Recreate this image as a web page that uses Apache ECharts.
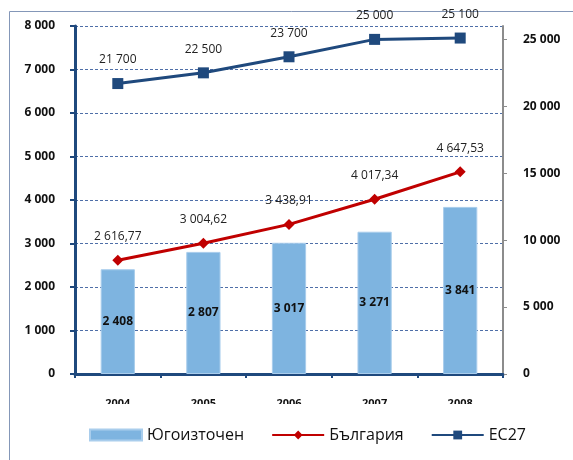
<!DOCTYPE html>
<html><head><meta charset="utf-8">
<script src="https://cdn.jsdelivr.net/npm/echarts@6/dist/echarts.min.js"></script>
<style>html,body{margin:0;padding:0;background:#fff}#c{width:573px;height:460px}</style>
</head><body><div id="c"></div>
<script>
const categories = ['2004','2005','2006','2007','2008'];
const regionValues = [2408, 2807, 3017, 3271, 3841];
const bulgariaValues = [2616.77, 3004.62, 3438.91, 4017.34, 4647.53];
const eu27Values = [21700, 22500, 23700, 25000, 25100];
const leftTicks = [0,1000,2000,3000,4000,5000,6000,7000,8000];
const rightTicks = [0,5000,10000,15000,20000,25000];
const seriesNames = ['Югоизточен','България','ЕС27'];

function fmt(v, dec) {
  const s = dec ? v.toFixed(dec) : String(Math.round(v));
  const parts = s.split('.');
  const intp = parts[0].replace(/\B(?=(\d{3})+(?!\d))/g, ' ');
  return parts.length > 1 ? intp + ',' + parts[1] : intp;
}
const FONT = 'Open Sans';
const chart = echarts.init(document.getElementById('c'));
chart.setOption({
  animation: false,
  textStyle: { fontFamily: FONT },
  grid: { left: 75, right: 70, top: 26, bottom: 86 },
  graphic: [
    { type: 'line', shape: { x1: 9.5, y1: 11.5, x2: 573, y2: 11.5 }, style: { stroke: '#8497b8', lineWidth: 1 }, z: 0 },
    { type: 'line', shape: { x1: 9.5, y1: 11.5, x2: 9.5, y2: 460 }, style: { stroke: '#8497b8', lineWidth: 1 }, z: 0 },
    { type: 'rect', shape: { x: 60, y: 404, width: 480, height: 16 }, style: { fill: '#fff' }, z: 100, zlevel: 1 }
  ],
  legend: {
    left: 89, top: 427, padding: 0,
    itemWidth: 52, itemHeight: 11, itemGap: 27,
    textStyle: { fontFamily: FONT, fontSize: 16, color: '#111', padding: [0,0,0,0] },
    data: [
      { name: seriesNames[0], icon: 'rect' },
      { name: seriesNames[1] },
      { name: seriesNames[2] }
    ]
  },
  xAxis: {
    type: 'category', data: categories,
    axisLine: { lineStyle: { color: '#1f497d', width: 3 } },
    axisTick: { show: true, length: 4, lineStyle: { color: '#1f497d', width: 2 } },
    axisLabel: { margin: 24, fontWeight: 'bold', fontSize: 11, color: '#111' }
  },
  yAxis: [
    {
      type: 'value', min: 0, max: 8000, interval: 1000,
      axisLine: { show: true, lineStyle: { color: '#1f497d', width: 3 } },
      axisTick: { show: true, length: 5, lineStyle: { color: '#1f497d', width: 2 } },
      axisLabel: { margin: 20, fontWeight: 'bold', fontSize: 12, color: '#111', formatter: v => fmt(v) },
      splitLine: { show: true, lineStyle: { color: '#4f6fa8', type: [3,2], width: 1 } }
    },
    {
      type: 'value', min: 0, max: 26000,
      axisLine: { show: true, lineStyle: { color: '#8c8c8c', width: 2 } },
      axisTick: { show: true, length: 4, customValues: rightTicks, lineStyle: { color: '#8c8c8c', width: 1 } },
      axisLabel: { margin: 20, fontWeight: 'bold', fontSize: 12, color: '#111', customValues: rightTicks, formatter: v => fmt(v) },
      splitLine: { show: false }
    }
  ],
  series: [
    {
      name: seriesNames[0], type: 'bar', data: regionValues, barWidth: '40%',
      itemStyle: { color: '#7eb4e0', borderColor: '#a9cdec', borderWidth: 1 },
      label: { show: true, position: 'inside', fontWeight: 'bold', fontSize: 12, color: '#111', formatter: p => fmt(p.value) },
      z: 2
    },
    {
      name: seriesNames[1], type: 'line', data: bulgariaValues,
      symbol: 'diamond', symbolSize: 11,
      lineStyle: { color: '#c00000', width: 3 }, itemStyle: { color: '#c00000' },
      label: { show: true, position: 'top', distance: 12, fontSize: 12, color: '#222', formatter: p => fmt(p.value, 2) },
      z: 3
    },
    {
      name: seriesNames[2], type: 'line', yAxisIndex: 1, data: eu27Values,
      symbol: 'rect', symbolSize: 11,
      lineStyle: { color: '#1f497d', width: 3 }, itemStyle: { color: '#1f497d' },
      label: { show: true, position: 'top', distance: 12, fontSize: 12, color: '#222', formatter: p => fmt(p.value) },
      z: 4
    }
  ]
});
</script></body></html>
